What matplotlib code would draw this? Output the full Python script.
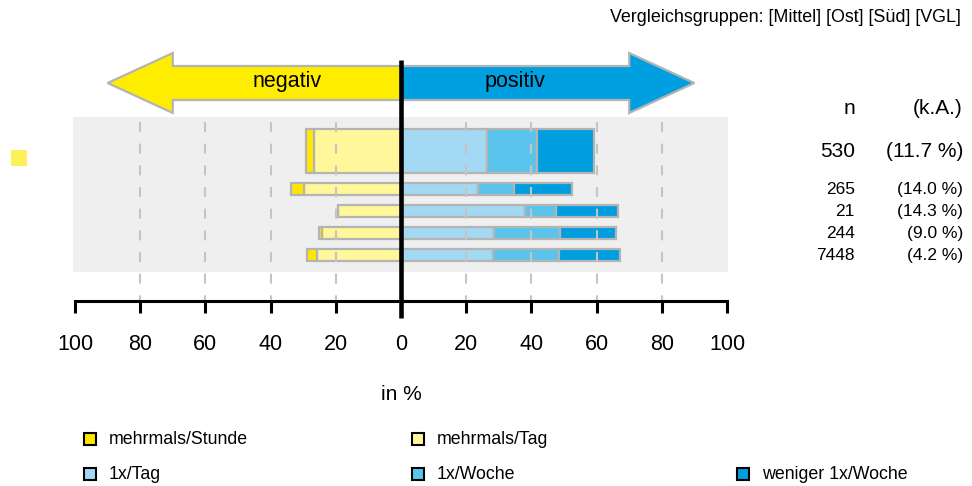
import matplotlib
matplotlib.use('Agg')
import matplotlib.pyplot as plt
from matplotlib.patches import FancyArrow, Rectangle

plt.rcParams['font.family'] = ['Liberation Sans', 'DejaVu Sans']

# Values in percent, one entry per row (first row = own group, then comparison groups)
stunde = [2.5, 3.8, 0.0, 1.0, 3.1]
tag = [26.6, 29.9, 19.2, 24.2, 25.8]
tag1x = [26.5, 23.7, 38.1, 28.5, 28.1]
woche = [15.3, 11.1, 9.5, 20.3, 20.5]
weniger = [17.4, 17.8, 19.0, 17.2, 18.6]
n_values = [530, 265, 21, 244, 7448]
ka_values = ['11.7', '14.0', '14.3', '9.0', '4.2']

categories = ['mehrmals/Stunde', 'mehrmals/Tag', '1x/Tag', '1x/Woche', 'weniger 1x/Woche']
colors = ['#ffe600', '#fff799', '#a3d9f2', '#5bc4ec', '#009ddf']
ticks = [-100, -80, -60, -40, -20, 0, 20, 40, 60, 80, 100]

# layout (pixel based, figure is 972 x 486)
W, H = 972, 486
X0 = 401.0       # pixel position of 0 %
PX = 3.26        # pixels per percent
row_y = [151, 189, 211, 233, 255]
row_h = [44, 12, 12, 12, 12]


def px(x):
    return (x - X0) / PX


fig = plt.figure(figsize=(W / 100, H / 100), dpi=100)
ax = fig.add_axes([0, 0, 1, 1])
ax.set_xlim(px(0), px(W))
ax.set_ylim(H, 0)
ax.set_facecolor('none')

for s in ['top', 'left', 'right']:
    ax.spines[s].set_visible(False)
ax.spines['bottom'].set_position(('data', 301))
ax.spines['bottom'].set_bounds(-100, 100)
ax.spines['bottom'].set_linewidth(2.2)
ax.set_yticks([])
ax.set_xticks(ticks)
ax.set_xticklabels([str(abs(t)) for t in ticks])
ax.tick_params(axis='x', direction='out', length=8.6, width=2.2, pad=15, labelsize=15.5)

# grey panel
ax.add_patch(Rectangle((px(73), 117), px(728) - px(73), 155, facecolor='#efefef',
                       edgecolor='none', zorder=0))

# dashed grid lines
lw_grid = 1.5
for t in [-80, -60, -40, -20, 20, 40, 60, 80]:
    ax.plot([t, t], [122, 300], color='#c4c4c4', lw=lw_grid,
            linestyle=(0, (7.2 / lw_grid, 8.4 / lw_grid)), zorder=3)

# bars
edge = '#b4b4b4'
for i in range(len(row_y)):
    lw = 1.6
    ax.barh(row_y[i], -tag[i], height=row_h[i], left=0, color=colors[1],
            edgecolor=edge, linewidth=lw, zorder=2)
    ax.barh(row_y[i], -stunde[i], height=row_h[i], left=-tag[i], color=colors[0],
            edgecolor=edge, linewidth=lw, zorder=2)
    left = 0
    for vals, c in [(tag1x, colors[2]), (woche, colors[3]), (weniger, colors[4])]:
        ax.barh(row_y[i], vals[i], height=row_h[i], left=left, color=c,
                edgecolor=edge, linewidth=lw, zorder=2)
        left += vals[i]

    fs = 15 if i == 0 else 12.5
    ax.text(px(855), row_y[i], str(n_values[i]), ha='right', va='center', fontsize=fs)
    ax.text(px(963), row_y[i], '(' + ka_values[i] + ' %)', ha='right', va='center', fontsize=fs)

ax.text(px(855), 108, 'n', ha='right', va='center', fontsize=15)
ax.text(px(963), 108, '(k.A.)', ha='right', va='center', fontsize=15)

# group marker
ax.add_patch(Rectangle((px(11), 150), px(27) - px(11), 16, facecolor='#ffef5a',
                       edgecolor='none', zorder=2))

# direction arrows
ax.add_patch(FancyArrow(0, 83, -90, 0, width=34, head_width=60, head_length=20,
                        length_includes_head=True, facecolor='#ffed00',
                        edgecolor='#b4b4b4', linewidth=1.6, zorder=2))
ax.add_patch(FancyArrow(0, 83, 90, 0, width=34, head_width=60, head_length=20,
                        length_includes_head=True, facecolor='#009fe0',
                        edgecolor='#b4b4b4', linewidth=1.6, zorder=2))
ax.text(-35, 82, 'negativ', ha='center', va='center', fontsize=15.5)
ax.text(35, 82, 'positiv', ha='center', va='center', fontsize=15.5)

# zero line
ax.plot([0, 0], [60, 318], color='black', lw=3.3, zorder=5, solid_capstyle='butt')

ax.text(0, 394, 'in %', ha='center', va='center', fontsize=15)
ax.text(px(961), 18, 'Vergleichsgruppen: [Mittel] [Ost] [Süd] [VGL]', ha='right',
        va='center', fontsize=12.9)

# legend
leg_pos = [(84, 439), (412, 439), (84, 474), (412, 474), (737, 474)]
for (lx, ly), lab, c in zip(leg_pos, categories, colors):
    ax.add_patch(Rectangle((px(lx), ly - 6), 12 / PX, 12, facecolor=c,
                           edgecolor='black', linewidth=1.5, zorder=2, clip_on=False))
    ax.text(px(lx + 25), ly, lab, ha='left', va='center', fontsize=12.8)

fig.savefig('out.png', dpi=100)
